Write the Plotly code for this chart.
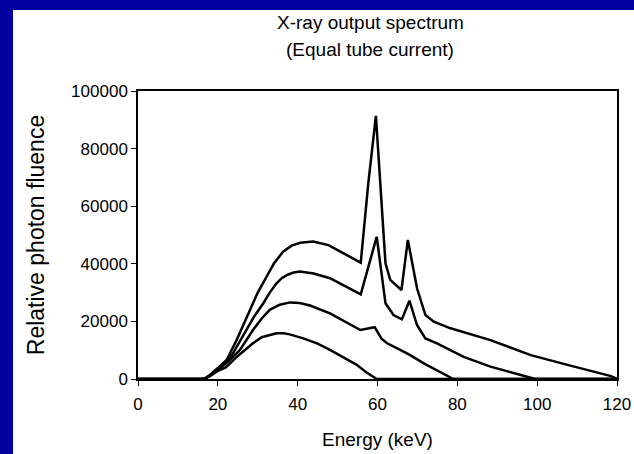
import plotly.graph_objects as go

# Energy (keV) and relative photon fluence for each tube potential
e120 = [0, 16, 17, 18, 20, 22.2, 24.7, 28, 30, 32.2, 34, 36.4, 38.5, 40.6, 43.9, 47.7, 55.8, 57.7, 59.6, 62, 63.2, 66, 67.6, 69.9, 72, 74.1, 78.3, 88.3, 98.4, 107.6, 118.5, 120]
f120 = [0, 0, 400, 1400, 3800, 6600, 13500, 24000, 30000, 35500, 40000, 44300, 46300, 47300, 47700, 46500, 40400, 68000, 91400, 40200, 34400, 30900, 48300, 31500, 22200, 19900, 17600, 13500, 8300, 4900, 1000, 0]

e100 = [0, 16, 17, 18, 20, 22, 23.8, 27.2, 29, 31.4, 33, 34.7, 36, 37.5, 39, 40.6, 44, 48.1, 55.8, 59.8, 62, 64, 66.1, 68, 69.9, 72, 74.9, 81.6, 88.3, 95.9, 99.5, 120]
f100 = [0, 0, 300, 1200, 3500, 6000, 8900, 17000, 21500, 26300, 30000, 33200, 35000, 36200, 37000, 37300, 36600, 35000, 29400, 49400, 26300, 22200, 20700, 27200, 18750, 14100, 12400, 7700, 4300, 1400, 0, 0]

e80 = [0, 16, 17, 18, 20, 22.5, 25.5, 28.8, 31, 33, 35.5, 38.1, 40.5, 43.1, 48.1, 55.7, 59.3, 61, 62.4, 65.7, 67.5, 68.2, 71.6, 75.8, 79, 120]
f80 = [0, 0, 300, 1100, 3000, 6000, 10000, 17000, 21000, 24000, 25800, 26600, 26400, 25500, 22800, 17000, 18000, 14000, 12400, 10100, 9000, 8300, 5450, 2500, 0, 0]

e60 = [0, 16, 17, 18, 20, 22, 25, 27, 28.8, 31, 33, 34.7, 36.5, 38, 41.4, 45, 48.1, 51.5, 54.8, 57, 59.8, 120]
f60 = [0, 0, 300, 1000, 2800, 4000, 8000, 10500, 12400, 14500, 15400, 15900, 15900, 15500, 14100, 12300, 10100, 7600, 4900, 2500, 0, 0]

x_ticks = [0, 20, 40, 60, 80, 100, 120]
y_ticks = [0, 20000, 40000, 60000, 80000, 100000]
title_lines = ["X-ray output spectrum", "(Equal tube current)"]

BLUE = "#00009E"
FONT = "Liberation Sans, Arial, sans-serif"

fig = go.Figure()
for ex, fy in [(e120, f120), (e100, f100), (e80, f80), (e60, f60)]:
    fig.add_trace(go.Scatter(x=ex, y=fy, mode="lines",
                             line=dict(color="black", width=2.5),
                             showlegend=False, hoverinfo="skip"))

W, H = 634, 454
ml, mr, mt, mb = 138, 17, 91, 75
pw, ph = W - ml - mr, H - mt - mb

def px_x(x):
    return (x - ml) / pw

def px_y(y):
    return (H - mb - y) / ph

# blue frame: left band (13px) and top band (10px)
fig.add_shape(type="rect", xref="paper", yref="paper", layer="below",
              x0=px_x(0), x1=px_x(13), y0=px_y(H), y1=px_y(0),
              fillcolor=BLUE, line=dict(width=0))
fig.add_shape(type="rect", xref="paper", yref="paper", layer="below",
              x0=px_x(0), x1=px_x(W), y0=px_y(10), y1=px_y(0),
              fillcolor=BLUE, line=dict(width=0))

for txt, ypix in zip(title_lines, [22, 49]):
    fig.add_annotation(text=txt, xref="paper", yref="paper",
                       x=px_x(370), y=px_y(ypix), xanchor="center", yanchor="middle",
                       showarrow=False, font=dict(size=19, family=FONT, color="black"))

fig.update_layout(
    width=W, height=H,
    margin=dict(l=ml, r=mr, t=mt, b=mb, autoexpand=False),
    paper_bgcolor="white", plot_bgcolor="white",
    font=dict(family=FONT, color="black"),
    xaxis=dict(range=[0, 120], tickvals=x_ticks, ticktext=[str(v) for v in x_ticks],
               showline=True, linecolor="black", linewidth=1.5, mirror=True,
               ticks="outside", ticklen=5, tickcolor="black", tickwidth=1,
               showgrid=False, zeroline=False, ticklabelstandoff=4,
               tickfont=dict(size=17, family=FONT, color="black"),
               title=dict(text="Energy (keV)", font=dict(size=19, family=FONT, color="black"),
                          standoff=20)),
    yaxis=dict(range=[0, 100000], tickvals=y_ticks, ticktext=[str(v) for v in y_ticks],
               showline=True, linecolor="black", linewidth=1.5, mirror=True,
               ticks="outside", ticklen=5, tickcolor="black", tickwidth=1,
               showgrid=False, zeroline=False,
               tickfont=dict(size=17, family=FONT, color="black"),
               title=dict(text="Relative photon fluence", font=dict(size=23, family=FONT, color="black"),
                          standoff=20)),
)

fig.write_html("out.html", config={"displayModeBar": False},
               post_script=("document.documentElement.style.background='white';"
                            "document.body.style.background='white';"
                            "document.body.style.margin='0';"
                            "document.body.style.overflow='hidden';"))
